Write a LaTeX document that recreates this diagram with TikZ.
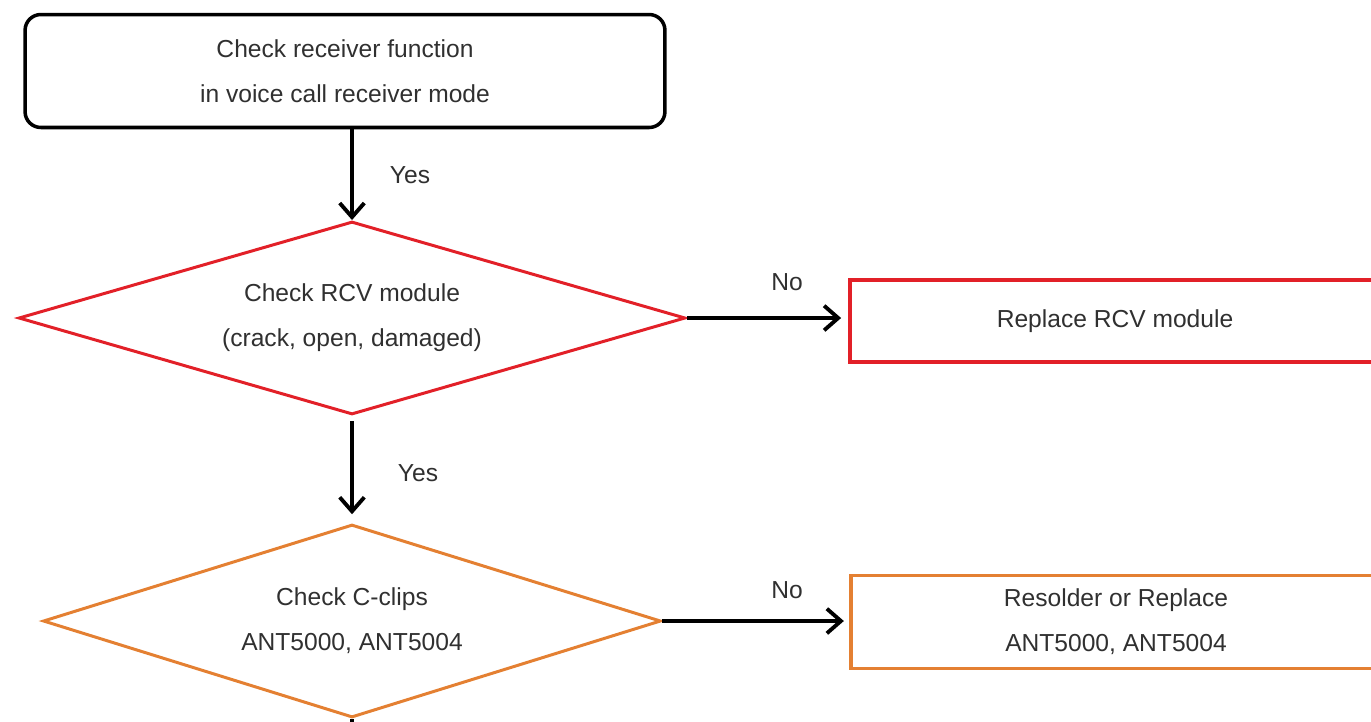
\documentclass[tikz,border=0pt]{standalone}
\usepackage{fontspec}
\setmainfont{Liberation Sans}
\usetikzlibrary{arrows.meta,shapes.geometric}
\definecolor{rcvred}{RGB}{226,32,40}
\definecolor{clipor}{RGB}{228,128,50}
\definecolor{txtgray}{RGB}{48,48,48}
\tikzset{
	flowtxt/.style={text=txtgray, font=\fontsize{14}{25.6}\selectfont, align=center},
	flowlbl/.style={text=txtgray, font=\fontsize{14}{17}\selectfont},
	startbox/.style={flowtxt, draw=black, line width=2pt, rounded corners=9pt, minimum width=12.8cm, minimum height=2.26cm},
	chkdiam/.style={flowtxt, diamond, line width=1.7pt, inner sep=0pt, aspect=3.3, minimum height=3.86cm},
	fixbox/.style={flowtxt, rectangle, line width=2.2pt, minimum width=10.6cm},
	flow/.style={line width=2.2pt, -{Straight Barb[length=8pt,width=14pt]}}
}
\begin{document}
\begin{tikzpicture}[x=0.02cm, y=-0.02cm]
	\useasboundingbox (0,0) rectangle (1371,721);
	\clip (0,0) rectangle (1371,721);
	
	\node[startbox] (recv) at (345,71) {Check receiver function\\in voice call receiver mode};
	
	\node[chkdiam, draw=rcvred, minimum width=13.34cm] (rcv) at (352,318) {Check RCV module\\(crack, open, damaged)};
	\node[fixbox, draw=rcvred, minimum height=1.64cm] (rcvfix) at (1115,321) {Replace RCV module};
	
	\node[chkdiam, draw=clipor, minimum width=12.36cm] (clips) at (352,621) {Check C-clips\\ANT5000, ANT5004};
	\node[fixbox, draw=clipor, minimum height=1.86cm] (clipfix) at (1116,622) {Resolder or Replace\\ANT5000, ANT5004};
	\coordinate (next) at (352,760);
	
	\node[flowlbl] (yes1) at (410,175) {Yes};
	\node[flowlbl] (no1) at (787,282) {No};
	\node[flowlbl] (yes2) at (418,473) {Yes};
	\node[flowlbl] (no2) at (787,590) {No};
	
	\draw[flow] (rcv.north |- recv.south) -- (rcv.north);
	\draw[flow, shorten >=4pt] (rcv.east) -- (rcv.east -| rcvfix.west);
	\draw[flow, shorten <=3pt, shorten >=5pt] (rcv.south) -- (clips.north);
	\draw[flow, shorten >=3pt] (clips.east) -- (clips.east -| clipfix.west);
	\draw[line width=2.2pt] (clips.south) -- (next);
\end{tikzpicture}
\end{document}
